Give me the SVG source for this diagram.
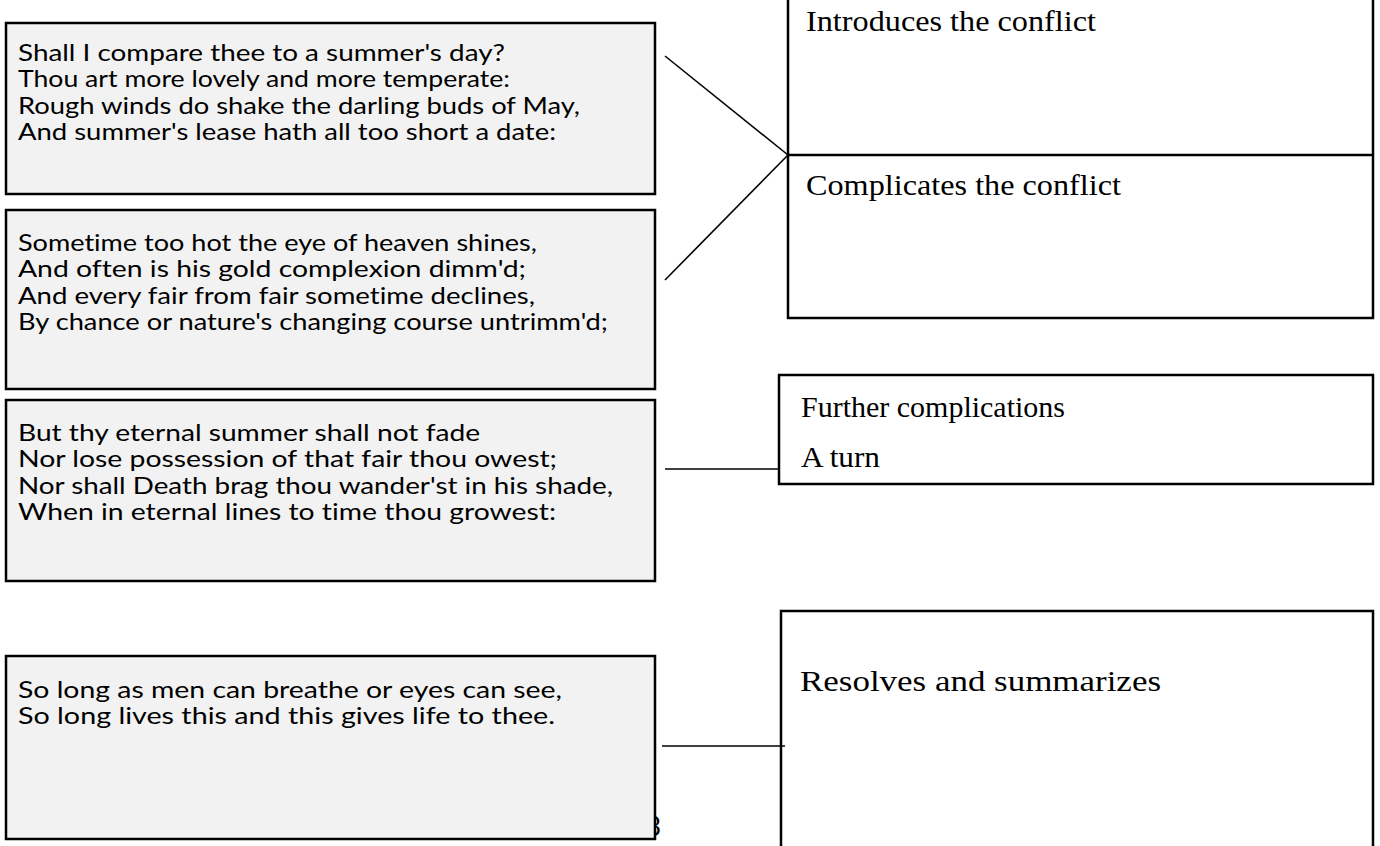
<svg xmlns="http://www.w3.org/2000/svg" width="1380" height="846" viewBox="0 0 1380 846">
<style>
.poem{fill:#f2f2f2;stroke:#000;stroke-width:2.5}
.box{fill:#fff;stroke:#000;stroke-width:2.5}
.pt{font-family:"Lato","Open Sans",sans-serif;font-size:23px;fill:#000;font-variant-ligatures:none}
.st{font-family:"Liberation Serif","Times New Roman",serif;font-size:29px;fill:#000}
.conn line{stroke:#000;stroke-width:1.6}
</style>
<rect width="1380" height="846" fill="#fff"/>
<text class="pt" x="646" y="836" style="font-size:26px">3</text>
<g id="poem1">
<rect class="poem" x="6" y="23" width="649" height="171"/>
<text class="pt" x="18" y="61" textLength="487" lengthAdjust="spacingAndGlyphs">Shall I compare thee to a summer's day?</text>
<text class="pt" x="18" y="87" textLength="492" lengthAdjust="spacingAndGlyphs">Thou art more lovely and more temperate:</text>
<text class="pt" x="18" y="114" textLength="562" lengthAdjust="spacingAndGlyphs">Rough winds do shake the darling buds of May,</text>
<text class="pt" x="18" y="140" textLength="538" lengthAdjust="spacingAndGlyphs">And summer's lease hath all too short a date:</text>
</g>
<g id="poem2">
<rect class="poem" x="6" y="210" width="649" height="179"/>
<text class="pt" x="18" y="251" textLength="519" lengthAdjust="spacingAndGlyphs">Sometime too hot the eye of heaven shines,</text>
<text class="pt" x="18" y="277" textLength="508" lengthAdjust="spacingAndGlyphs">And often is his gold complexion dimm'd;</text>
<text class="pt" x="18" y="304" textLength="517" lengthAdjust="spacingAndGlyphs">And every fair from fair sometime declines,</text>
<text class="pt" x="18" y="330" textLength="590" lengthAdjust="spacingAndGlyphs">By chance or nature's changing course untrimm'd;</text>
</g>
<g id="poem3">
<rect class="poem" x="6" y="400" width="649" height="181"/>
<text class="pt" x="18" y="441" textLength="462" lengthAdjust="spacingAndGlyphs">But thy eternal summer shall not fade</text>
<text class="pt" x="18" y="467" textLength="539" lengthAdjust="spacingAndGlyphs">Nor lose possession of that fair thou owest;</text>
<text class="pt" x="18" y="494" textLength="595" lengthAdjust="spacingAndGlyphs">Nor shall Death brag thou wander'st in his shade,</text>
<text class="pt" x="18" y="520" textLength="538" lengthAdjust="spacingAndGlyphs">When in eternal lines to time thou growest:</text>
</g>
<g id="poem4">
<rect class="poem" x="6" y="656" width="649" height="183"/>
<text class="pt" x="18" y="698" textLength="544" lengthAdjust="spacingAndGlyphs">So long as men can breathe or eyes can see,</text>
<text class="pt" x="18" y="724" textLength="537" lengthAdjust="spacingAndGlyphs">So long lives this and this gives life to thee.</text>
</g>
<g id="conflict">
<rect class="box" x="788" y="-5" width="585" height="323"/>
<line x1="788" y1="155" x2="1373" y2="155" stroke="#000" stroke-width="2.5"/>
<text class="st" x="806" y="31" textLength="290" lengthAdjust="spacingAndGlyphs">Introduces the conflict</text>
<text class="st" x="806" y="195" textLength="315" lengthAdjust="spacingAndGlyphs">Complicates the conflict</text>
</g>
<g id="turn">
<rect class="box" x="779" y="375" width="594" height="109"/>
<text class="st" x="801" y="417" textLength="264" lengthAdjust="spacingAndGlyphs">Further complications</text>
<text class="st" x="801" y="467" textLength="79" lengthAdjust="spacingAndGlyphs">A turn</text>
</g>
<g id="resolve">
<rect class="box" x="781" y="611" width="592" height="245"/>
<text class="st" x="800" y="691" textLength="361" lengthAdjust="spacingAndGlyphs">Resolves and summarizes</text>
</g>
<g id="connectors" class="conn">
<line x1="665" y1="56" x2="788" y2="155"/>
<line x1="665" y1="280" x2="788" y2="155"/>
<line x1="665" y1="469" x2="779" y2="469"/>
<line x1="662" y1="746" x2="785" y2="746"/>
</g>
</svg>
